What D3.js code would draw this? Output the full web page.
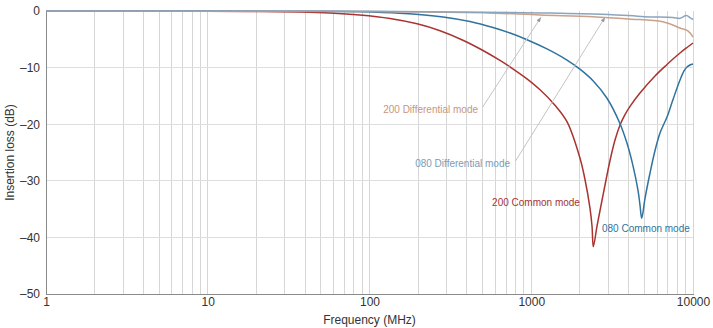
<!DOCTYPE html>
<html>
<head>
<meta charset="utf-8">
<script src="https://cdn.jsdelivr.net/npm/d3@7/dist/d3.min.js"></script>
<style>
  html, body { margin: 0; padding: 0; background: #fff; }
  svg { display: block; font-family: "Liberation Sans", Arial, sans-serif; }
</style>
</head>
<body>
<svg id="chart" width="713" height="328"></svg>
<script>
// ---- Data (frequency in MHz, insertion loss in dB) ----
const xTickValues = [1, 10, 100, 1000, 10000];
const xTickLabels = ["1", "10", "100", "1000", "10000"];
const yTickValues = [0, -10, -20, -30, -40, -50];
const yTickLabels = ["0", "\u201310", "\u201320", "\u201330", "\u201340", "\u201350"];

const cm200Freq = [1, 10, 21, 37, 57, 87, 134, 197, 273, 378, 500, 641, 740, 915, 1133, 1402, 1663, 2000, 2149, 2307, 2375, 2420, 2550, 2662, 2858, 3069, 3295, 3538, 3798, 4079, 4701, 5824, 6908, 7522, 8311, 9182, 10000];
const cm200Loss = [0, -0.03, -0.09, -0.18, -0.35, -0.7, -1.32, -2.27, -3.49, -5.16, -6.93, -8.73, -9.88, -11.73, -13.92, -16.64, -19.56, -25.97, -29.77, -34.81, -37.99, -41.64, -37.99, -35.25, -30.74, -26.41, -22.79, -20.14, -18.29, -16.84, -14.49, -11.48, -9.45, -8.48, -7.42, -6.45, -5.65];

const cm080Freq = [1, 37, 87, 154, 285, 418, 580, 740, 941, 1251, 1663, 2000, 2409, 2940, 3538, 3908, 4257, 4571, 4701, 4819, 5050, 5423, 5824, 6250, 6618, 6908, 7522, 8311, 8800, 9182, 9583, 10000];
const cm080Loss = [0, -0.05, -0.14, -0.39, -1.04, -1.86, -2.92, -3.90, -5.07, -6.70, -8.67, -10.28, -12.33, -15.42, -19.91, -23.37, -27.35, -31.68, -34.28, -36.63, -33.1, -28.62, -24.65, -21.55, -19.93, -18.73, -15.65, -12.19, -10.6, -9.89, -9.54, -9.36];

const dm080Freq = [1, 100, 500, 1133, 1500, 3000, 5000, 7500, 8300, 9100, 9600, 10000];
const dm080Loss = [0, -0.05, -0.2, -0.35, -0.4, -0.6, -1.0, -1.15, -1.3, -0.8, -1.2, -1.5];

const dm200Freq = [1, 100, 500, 1133, 2400, 4000, 6500, 8300, 9300, 10000];
const dm200Loss = [0, -0.1, -0.3, -0.7, -1.0, -1.4, -1.9, -3.0, -3.5, -4.6];

const seriesNames = ["200 Differential mode", "080 Differential mode", "200 Common mode", "080 Common mode"];

// ---- Layout ----
const svg = d3.select("#chart");
const x = d3.scaleLog().domain([1, 10000]).range([46, 693]);
const y = d3.scaleLinear().domain([-50, 0]).range([294, 11]);

const colors = {
  dm200: "#c9a08c",
  dm080: "#8aa5bd",
  cm200: "#a8332f",
  cm080: "#2f739e"
};

// Gridlines - vertical at every minor/major log tick (except 1)
const vTicks = [];
for (let d = 1; d <= 1000; d *= 10) {
  for (let k = 1; k <= 10; k++) {
    const v = d * k;
    if (v > 1) vTicks.push(v);
  }
}
svg.append("g").selectAll("line").data(Array.from(new Set(vTicks))).join("line")
  .attr("x1", d => x(d)).attr("x2", d => x(d))
  .attr("y1", y(0)).attr("y2", y(-50))
  .attr("stroke", "#d6d6d6").attr("stroke-width", 1).attr("shape-rendering", "crispEdges");

svg.append("g").selectAll("line").data([-10, -20, -30, -40]).join("line")
  .attr("x1", x(1)).attr("x2", x(10000))
  .attr("y1", d => y(d)).attr("y2", d => y(d))
  .attr("stroke", "#dedede").attr("stroke-width", 1).attr("shape-rendering", "crispEdges");

// Axes
const xAxis = d3.axisBottom(x).tickValues(xTickValues)
  .tickFormat((d, i) => xTickLabels[i]).tickSize(0).tickPadding(3);
const gx = svg.append("g").attr("transform", `translate(0,${y(-50)})`).call(xAxis);
gx.select(".domain").attr("stroke", "#8a8a8a").attr("shape-rendering", "crispEdges");
gx.selectAll("text").attr("font-size", 12).attr("fill", "#333").attr("font-family", "Liberation Sans, Arial, sans-serif");

const yAxis = d3.axisLeft(y).tickValues(yTickValues)
  .tickFormat((d, i) => yTickLabels[i]).tickSize(0).tickPadding(6);
const gy = svg.append("g").attr("transform", `translate(${x(1)},0)`).call(yAxis);
gy.select(".domain").attr("stroke", "#8a8a8a").attr("shape-rendering", "crispEdges");
gy.selectAll("text").attr("font-size", 12).attr("fill", "#333").attr("font-family", "Liberation Sans, Arial, sans-serif");

// Axis titles
svg.append("text").attr("x", (x(1) + x(10000)) / 2).attr("y", 324)
  .attr("text-anchor", "middle").attr("font-size", 12).attr("fill", "#333")
  .text("Frequency (MHz)");
svg.append("text").attr("transform", `translate(14,${(y(0) + y(-50)) / 2}) rotate(-90)`)
  .attr("text-anchor", "middle").attr("font-size", 12).attr("fill", "#333")
  .text("Insertion loss (dB)");

// Lines
const line = d3.line().x(d => x(d[0])).y(d => y(d[1])).curve(d3.curveCatmullRom.alpha(0.5));
function drawSeries(freqs, vals, color, w) {
  svg.append("path").datum(freqs.map((f, i) => [f, vals[i]]))
    .attr("d", line).attr("fill", "none").attr("stroke", color)
    .attr("stroke-width", w).attr("stroke-linejoin", "round");
}
drawSeries(cm200Freq, cm200Loss, colors.cm200, 1.5);
drawSeries(cm080Freq, cm080Loss, colors.cm080, 1.5);
drawSeries(dm200Freq, dm200Loss, colors.dm200, 1.5);
drawSeries(dm080Freq, dm080Loss, colors.dm080, 1.5);

// Annotations (positions in data space)
const defs = svg.append("defs");
defs.append("marker").attr("id", "arr").attr("viewBox", "0 0 10 10")
  .attr("refX", 10).attr("refY", 5).attr("markerWidth", 5).attr("markerHeight", 5)
  .attr("orient", "auto")
  .append("path").attr("d", "M0,1 L10,5 L0,9 Z").attr("fill", "#999");

function leader(f1, v1, f2, v2) {
  svg.append("line").attr("x1", x(f1)).attr("y1", y(v1)).attr("x2", x(f2)).attr("y2", y(v2))
    .attr("stroke", "#c4c4c4").attr("stroke-width", 1).attr("marker-end", "url(#arr)");
}
leader(500, -17.0, 1148, -1.1);
leader(800, -26.5, 2858, -1.1);

function label(f, v, txt, color, anchor) {
  svg.append("text").attr("x", x(f)).attr("y", y(v)).attr("text-anchor", anchor)
    .attr("font-size", 10).attr("fill", color).text(txt);
}
label(469, -18.1, seriesNames[0], "#c8957f", "end");
label(739, -27.65, seriesNames[1], "#7d9bb6", "end");
label(2000, -34.4, seriesNames[2], "#a8332f", "end");
label(2737, -38.96, seriesNames[3], "#2f739e", "start");
</script>
</body>
</html>
